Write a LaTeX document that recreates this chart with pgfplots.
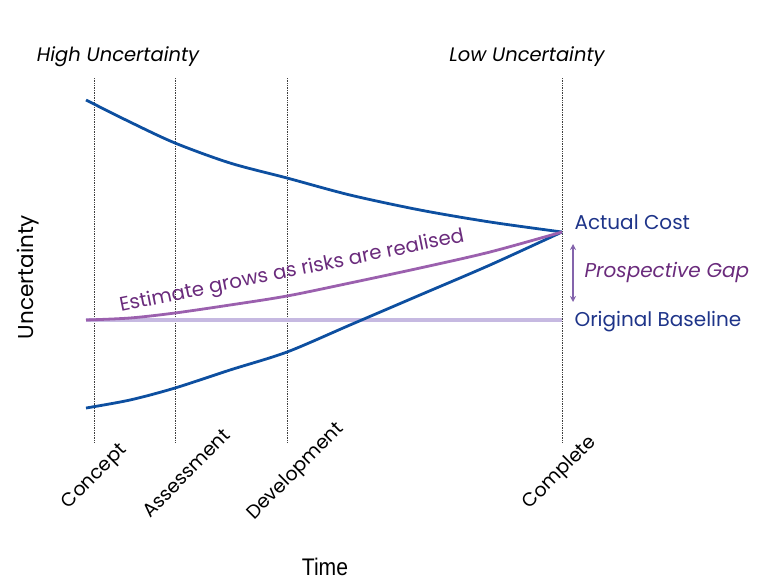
\documentclass[border=0pt]{standalone}
\usepackage{pgfplots}
\pgfplotsset{compat=1.18}
\usetikzlibrary{arrows.meta}
\usepackage{fontspec}
\setmainfont{Poppins}
\newfontfamily\timefont{Liberation Sans}

\definecolor{costblue}{HTML}{0D4FA0}
\definecolor{estpurple}{HTML}{9B60AE}
\definecolor{basepurple}{HTML}{C6B9E1}
\definecolor{textpurple}{HTML}{6A2B7C}
\definecolor{navy}{HTML}{1E3489}
\definecolor{arrowpurple}{HTML}{8464AC}

\begin{document}
\begin{tikzpicture}
\begin{axis}[
	scale only axis,
	width=768pt, height=587pt,
	xmin=0, xmax=768, ymin=0, ymax=587,
	y dir=reverse,
	hide axis,
	clip=false,
]
% invisible frame for the page size
\path (axis cs:0,0) -- (axis cs:768,587);

% phase lines
\addplot[black!75, densely dotted, line width=0.7pt] coordinates {(94,78) (94,442)};
\addplot[black!75, densely dotted, line width=0.7pt] coordinates {(175,78) (175,442)};
\addplot[black!75, densely dotted, line width=0.7pt] coordinates {(287,78) (287,442)};
\addplot[black!75, densely dotted, line width=0.7pt] coordinates {(562,78) (562,442)};

% original baseline
\addplot[basepurple, line width=3.2pt] coordinates {(86,320) (562,320)};

% upper uncertainty bound
\addplot[costblue, line width=2.8pt, smooth] coordinates {
	(86,100) (130,122) (175,143) (230,163) (287,178)
	(350,195) (420,210) (490,222) (562,232)};
% lower uncertainty bound
\addplot[costblue, line width=2.8pt, smooth] coordinates {
	(86,408) (130,400) (175,388) (230,370) (287,352)
	(350,325) (420,295) (490,265) (562,232)};
% estimate
\addplot[estpurple, line width=2.8pt, smooth] coordinates {
	(86,320) (130,318) (175,313) (230,305) (287,296)
	(350,283) (420,268) (490,252) (562,232)};

% gap arrow
\draw[arrowpurple, line width=1.6pt, {Stealth[length=6pt,width=6pt]}-{Stealth[length=6pt,width=6pt]}]
	(axis cs:573,244) -- (axis cs:573,302);

% texts
\node[font=\fontsize{19.5}{22}\selectfont\itshape] at (axis cs:118,57) {High Uncertainty};
\node[font=\fontsize{19.5}{22}\selectfont\itshape] at (axis cs:527,57) {Low Uncertainty};
\node[font=\fontsize{20}{24}\selectfont, text=navy, anchor=west] at (axis cs:571,222) {Actual Cost};
\node[font=\fontsize{20}{24}\selectfont\itshape, text=textpurple, anchor=west] at (axis cs:581,272) {Prospective Gap};
\node[font=\fontsize{20}{24}\selectfont, text=navy, anchor=west] at (axis cs:571,322) {Original Baseline};
\node[font=\fontsize{19.8}{22}\selectfont, text=textpurple, rotate=11.5] at (axis cs:292,272) {Estimate grows as risks are realised};
\node[font=\fontsize{21.5}{24}\selectfont, rotate=90] at (axis cs:28,277) {Uncertainty};
\node[font=\timefont\fontsize{24}{26}\selectfont] at (axis cs:325,567) {\scalebox{0.88}[1]{Time}};

% phase names
\node[font=\fontsize{19}{22}\selectfont, rotate=45] at (axis cs:95,477) {Concept};
\node[font=\fontsize{19}{22}\selectfont, rotate=45] at (axis cs:186,473) {Assessment};
\node[font=\fontsize{19}{22}\selectfont, rotate=45] at (axis cs:296,472) {Development};
\node[font=\fontsize{19}{22}\selectfont, rotate=45] at (axis cs:560,473) {Complete};
\end{axis}
\end{tikzpicture}
\end{document}
